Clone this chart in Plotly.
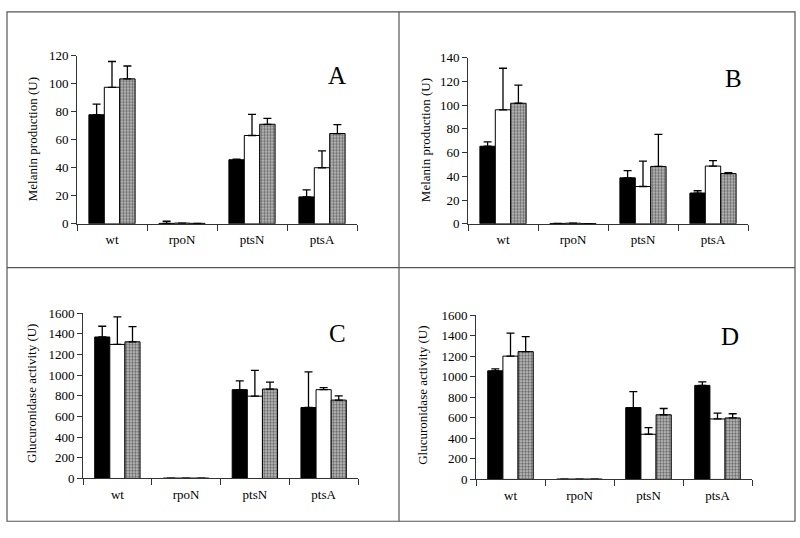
import plotly.graph_objects as go

categories = ["wt", "rpoN", "ptsN", "ptsA"]

# Panel A - Melanin production (U)
A_black = [77.8, 0.3, 45.7, 19.2]
A_black_err = [7.6, 1.5, 0.5, 5.0]
A_white = [97.4, 0.5, 63.0, 40.0]
A_white_err = [18.4, 0.0, 15.0, 12.0]
A_gray = [103.4, 0.3, 71.0, 64.4]
A_gray_err = [9.2, 0.0, 4.2, 6.4]

# Panel B - Melanin production (U)
B_black = [65.3, 0.3, 38.7, 25.9]
B_black_err = [3.7, 0.0, 6.1, 1.9]
B_white = [96.0, 0.5, 31.4, 48.6]
B_white_err = [35.0, 0.0, 21.3, 4.6]
B_gray = [101.5, 0.2, 48.3, 42.3]
B_gray_err = [15.3, 0.0, 27.0, 0.8]

# Panel C - Glucuronidase activity (U)
C_black = [1370, 4, 860, 687]
C_black_err = [104, 0, 85, 346]
C_white = [1298, 4, 797, 860]
C_white_err = [267, 0, 249, 19]
C_gray = [1323, 4, 866, 759]
C_gray_err = [148, 0, 66, 41]

# Panel D - Glucuronidase activity (U)
D_black = [1058, 4, 700, 916]
D_black_err = [19, 0, 155, 35]
D_white = [1201, 4, 440, 589]
D_white_err = [225, 0, 64, 57]
D_gray = [1245, 4, 630, 599]
D_gray_err = [146, 0, 61, 41]

panel_letters = ["A", "B", "C", "D"]
y_titles = ["Melanin production (U)", "Melanin production (U)",
            "Glucuronidase activity (U)", "Glucuronidase activity (U)"]
y_max = [120, 140, 1600, 1600]
y_step = [20, 20, 200, 200]

W, H = 800, 538
FONT = "Liberation Serif, Times New Roman, serif"

# pixel geometry of each plot area: (x0, x1, ytop, ybottom)
geom = [(77, 357, 50, 223), (468, 748, 52, 223), (83, 358, 315, 485), (476, 752, 317, 486)]
letter_pos = [(337, 70), (733, 74), (337, 336), (730, 339)]
ytitle_pos = [(32, 136), (425, 137), (32, 398), (423, 400)]

data = [
    (A_black, A_black_err, A_white, A_white_err, A_gray, A_gray_err),
    (B_black, B_black_err, B_white, B_white_err, B_gray, B_gray_err),
    (C_black, C_black_err, C_white, C_white_err, C_gray, C_gray_err),
    (D_black, D_black_err, D_white, D_white_err, D_gray, D_gray_err),
]


def err(e):
    return dict(type="data", array=e, arrayminus=[0] * len(e), symmetric=False,
                color="black", thickness=1.3, width=4)


fig = go.Figure()
annotations = []
for i, (bk, bke, wh, whe, gr, gre) in enumerate(data):
    sfx = "" if i == 0 else str(i + 1)
    xa, ya = "x" + sfx, "y" + sfx

    fig.add_trace(go.Bar(x=categories, y=bk, xaxis=xa, yaxis=ya, showlegend=False,
                         marker=dict(color="black", line=dict(color="black", width=1)),
                         error_y=err(bke)))
    fig.add_trace(go.Bar(x=categories, y=wh, xaxis=xa, yaxis=ya, showlegend=False,
                         marker=dict(color="white", line=dict(color="black", width=1)),
                         error_y=err(whe)))
    fig.add_trace(go.Bar(x=categories, y=gr, xaxis=xa, yaxis=ya, showlegend=False,
                         marker=dict(color="#7a7a7a", line=dict(color="black", width=1),
                                     pattern=dict(shape=".", fgcolor="#111111", bgcolor="#c4c4c4",
                                                  size=3, solidity=0.5)),
                         error_y=err(gre)))

    x0, x1, yt, yb = geom[i]
    xdom = [x0 / W, x1 / W]
    ydom = [1 - yb / H, 1 - yt / H]
    fig.layout["xaxis" + sfx] = dict(
        domain=xdom, anchor=ya, type="category", tickson="boundaries",
        ticks="outside", ticklen=6, tickcolor="#333", showline=True, linecolor="#333",
        linewidth=1, showgrid=False, tickfont=dict(family=FONT, size=13, color="black"),
        ticklabelstandoff=4, fixedrange=True)
    fig.layout["yaxis" + sfx] = dict(
        domain=ydom, anchor=xa, range=[0, y_max[i]], dtick=y_step[i], tick0=0,
        ticks="outside", ticklen=5, tickcolor="#333", showline=True, linecolor="#333",
        linewidth=1, showgrid=False, zeroline=False,
        tickfont=dict(family=FONT, size=13, color="black"), fixedrange=True)

    lx, ly = letter_pos[i]
    annotations.append(dict(text=panel_letters[i], x=lx / W, y=1 - ly / H, xref="paper", yref="paper",
                            showarrow=False, xanchor="center", yanchor="middle",
                            font=dict(family=FONT, size=25, color="black")))
    tx, ty = ytitle_pos[i]
    annotations.append(dict(text=y_titles[i], x=tx / W, y=1 - ty / H, xref="paper", yref="paper",
                            showarrow=False, xanchor="center", yanchor="middle", textangle=-90,
                            font=dict(family=FONT, size=13, color="black")))

# panel frames
shapes = []
frame_color = "#555555"
shapes.append(dict(type="rect", xref="paper", yref="paper", x0=7 / W, x1=795 / W,
                   y0=1 - 529 / H, y1=1 - 5 / H, line=dict(color=frame_color, width=1.2)))
shapes.append(dict(type="line", xref="paper", yref="paper", x0=399 / W, x1=399 / W,
                   y0=1 - 529 / H, y1=1 - 5 / H, line=dict(color=frame_color, width=1.2)))
shapes.append(dict(type="line", xref="paper", yref="paper", x0=7 / W, x1=795 / W,
                   y0=1 - 268 / H, y1=1 - 268 / H, line=dict(color=frame_color, width=1.2)))

fig.update_layout(
    width=W, height=H, margin=dict(l=0, r=0, t=0, b=0),
    paper_bgcolor="white", plot_bgcolor="white",
    barmode="group", bargap=0.34, bargroupgap=0,
    annotations=annotations, shapes=shapes, showlegend=False,
    font=dict(family=FONT, color="black"),
)

fig.write_html("out.html", config={"displayModeBar": False},
               post_script="document.body.style.margin='0';document.body.style.overflow='hidden';")
